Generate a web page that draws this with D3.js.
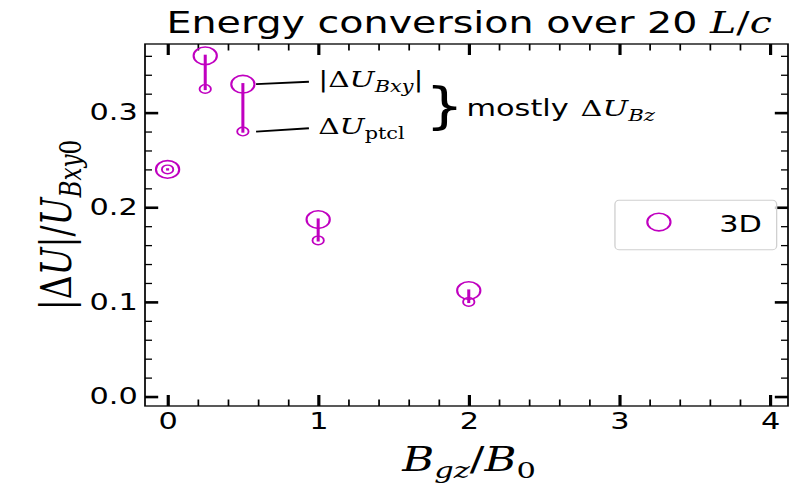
<!DOCTYPE html>
<html>
<head>
<meta charset="utf-8">
<script src="https://cdn.jsdelivr.net/npm/d3@7"></script>
<style>
  html, body { margin: 0; padding: 0; background: #fff; }
  svg { display: block; }
</style>
</head>
<body>
<div id="chart"></div>
<script>
// Energy change |ΔU| (normalised by U_Bxy0) versus guide field B_gz/B_0, 3D runs
const bgz    = [0, 0.25, 0.5, 1, 2];
const dUBxy  = [0.240, 0.360, 0.330, 0.187, 0.112];   // large circles: |ΔU_Bxy|
const dUptcl = [0.240, 0.325, 0.280, 0.165, 0.100];   // small circles: ΔU_ptcl
const xTicks = [0, 1, 2, 3, 4];
const xTickLabels = ["0", "1", "2", "3", "4"];
const yTicks = [0.0, 0.1, 0.2, 0.3];
const yTickLabels = ["0.0", "0.1", "0.2", "0.3"];
const seriesName = "3D";

const WIDTH = 800, HEIGHT = 488;
const SX = 1.32;                 // the figure is drawn wider than tall (non-uniform stretch)
const W = WIDTH / SX, H = HEIGHT;
const plot = { left: 145 / SX, right: 788 / SX, top: 44, bottom: 406 };
const MAG = "#c000c0";
const SANS = "DejaVu Sans", SERIF = "DejaVu Serif";

const svg = d3.select("#chart").append("svg")
  .attr("width", WIDTH).attr("height", HEIGHT)
  .attr("viewBox", `0 0 ${W} ${H}`)
  .attr("preserveAspectRatio", "none");

svg.append("rect").attr("width", W).attr("height", H).attr("fill", "#fff");

const x = d3.scaleLinear().domain([-0.15, 4.12]).range([plot.left, plot.right]);
const y = d3.scaleLinear().domain([-0.01, 0.3725]).range([plot.bottom, plot.top]);

const inX = v => v >= x.domain()[0] && v <= x.domain()[1];
const inY = v => v >= y.domain()[0] && v <= y.domain()[1];
const xMinor = d3.range(-2, 25).map(i => +(i * 0.2).toFixed(2))
  .filter(v => inX(v) && !xTicks.some(t => Math.abs(t - v) < 1e-9));
const yMinor = d3.range(-2, 21).map(i => +(i * 0.02).toFixed(3))
  .filter(v => inY(v) && !yTicks.some(t => Math.abs(t - v) < 1e-9));

// math-style text: parts of {t, it (italic), sub (subscript), font}
function mathText(sel, parts, size) {
  let shift = 0;
  parts.forEach(p => {
    const fs = p.sub ? size * 0.7 : size;
    const target = p.sub ? size * 0.22 : 0;
    const ts = sel.append("tspan")
      .style("font-family", p.font || SERIF)
      .style("font-style", p.it ? "italic" : "normal")
      .style("font-size", fs + "px")
      .text(p.t);
    if (target !== shift) { ts.attr("dy", target - shift); shift = target; }
    if (p.dx) ts.attr("dx", p.dx);
  });
  return sel;
}

function styleAxis(g, width, labelSize) {
  g.select(".domain").remove();
  g.selectAll(".tick line").attr("stroke", "#000").attr("stroke-width", width);
  g.selectAll(".tick text").style("font-family", SANS).style("font-size", labelSize + "px").attr("fill", "#000");
}

// major ticks with labels (bottom, left), inward on all four sides
const gxb = svg.append("g").attr("transform", `translate(0,${plot.bottom})`)
  .call(d3.axisBottom(x).tickValues(xTicks).tickFormat((d, i) => xTickLabels[i])
    .tickSizeInner(-11).tickSizeOuter(0).tickPadding(7));
styleAxis(gxb, 2.4, 23);
const gxt = svg.append("g").attr("transform", `translate(0,${plot.top})`)
  .call(d3.axisTop(x).tickValues(xTicks).tickFormat("").tickSizeInner(-11).tickSizeOuter(0));
styleAxis(gxt, 2.4, 23);
const gyl = svg.append("g").attr("transform", `translate(${plot.left},0)`)
  .call(d3.axisLeft(y).tickValues(yTicks).tickFormat((d, i) => yTickLabels[i])
    .tickSizeInner(-10).tickSizeOuter(0).tickPadding(5.5));
styleAxis(gyl, 2.6, 23);
const gyr = svg.append("g").attr("transform", `translate(${plot.right},0)`)
  .call(d3.axisRight(y).tickValues(yTicks).tickFormat("").tickSizeInner(-10).tickSizeOuter(0));
styleAxis(gyr, 2.6, 23);

// minor ticks
[[d3.axisBottom(x), plot.bottom, xMinor, -6.5, true], [d3.axisTop(x), plot.top, xMinor, -6.5, true],
 [d3.axisLeft(y), plot.left, yMinor, -5.3, false], [d3.axisRight(y), plot.right, yMinor, -5.3, false]]
  .forEach(([ax, pos, vals, len, horiz]) => {
    const g = svg.append("g")
      .attr("transform", horiz ? `translate(0,${pos})` : `translate(${pos},0)`)
      .call(ax.tickValues(vals).tickFormat("").tickSizeInner(len).tickSizeOuter(0));
    styleAxis(g, 1.3, 10);
  });

// frame
svg.append("rect")
  .attr("x", plot.left).attr("y", plot.top)
  .attr("width", plot.right - plot.left).attr("height", plot.bottom - plot.top)
  .attr("fill", "none").attr("stroke", "#000").attr("stroke-width", 1.3);

// connectors between |ΔU_Bxy| and ΔU_ptcl
svg.append("g").selectAll("line").data(bgz).join("line")
  .attr("x1", d => x(d)).attr("x2", d => x(d))
  .attr("y1", (d, i) => y(dUBxy[i])).attr("y2", (d, i) => y(dUptcl[i]))
  .attr("stroke", MAG).attr("stroke-width", 2.3).attr("stroke-linecap", "square");

// markers
svg.append("g").selectAll("circle").data(bgz).join("circle")
  .attr("cx", d => x(d)).attr("cy", (d, i) => y(dUBxy[i])).attr("r", 8.8)
  .attr("fill", "none").attr("stroke", MAG).attr("stroke-width", 1.6);
svg.append("g").selectAll("circle").data(bgz).join("circle")
  .attr("cx", d => x(d)).attr("cy", (d, i) => y(dUptcl[i])).attr("r", 4.3)
  .attr("fill", "none").attr("stroke", MAG).attr("stroke-width", 1.4);

// annotations pointing at the B_gz = 0.5 run
const annotations = [
  { at: [bgz[2], dUBxy[2]], textAt: [1.0, 0.3326],
    parts: [{ t: "|" }, { t: "Δ" }, { t: "U", it: true }, { t: "Bxy", it: true, sub: true }, { t: "|" }] },
  { at: [bgz[2], dUptcl[2]], textAt: [1.0, 0.2835],
    parts: [{ t: "Δ" }, { t: "U", it: true }, { t: "ptcl", sub: true }] }
];
annotations.forEach(a => {
  svg.append("line")
    .attr("x1", x(a.at[0]) + 10).attr("y1", y(a.at[1]))
    .attr("x2", x(a.textAt[0]) - 7).attr("y2", y(a.textAt[1]))
    .attr("stroke", "#000").attr("stroke-width", 1.8);
  const t = svg.append("text").attr("x", x(a.textAt[0])).attr("y", y(a.textAt[1]) + 5.5).attr("fill", "#000");
  mathText(t, a.parts, 22.5);
});

// brace grouping both annotations
const braceX = x(1.84), braceY = y(0.3054);
svg.append("text")
  .attr("transform", `translate(${braceX},${braceY}) scale(1,1.09)`)
  .attr("y", 14.3)
  .attr("text-anchor", "middle")
  .style("font-family", SANS).style("font-size", "46px").attr("fill", "#000")
  .text("}");
const note = svg.append("text").attr("x", x(1.985)).attr("y", y(0.2967)).attr("fill", "#000");
mathText(note, [{ t: "mostly", font: SANS }, { t: "Δ", dx: 9 }, { t: "U", it: true }, { t: "Bz", it: true, sub: true }], 23);

// title
const title = svg.append("text")
  .attr("x", (plot.left + plot.right) / 2 + 2).attr("y", 33)
  .attr("text-anchor", "middle").attr("fill", "#000");
mathText(title, [{ t: "Energy conversion over 20 ", font: SANS }, { t: "L", it: true }, { t: "/" }, { t: "c", it: true }], 30);

// axis labels
const xl = svg.append("text")
  .attr("x", (plot.left + plot.right) / 2 + 2).attr("y", 471)
  .attr("text-anchor", "middle").attr("fill", "#000");
mathText(xl, [{ t: "B", it: true }, { t: "gz", it: true, sub: true }, { t: "/" }, { t: "B", it: true }, { t: "0", sub: true }], 33);

const yl = svg.append("text")
  .attr("transform", `translate(54,${(plot.top + plot.bottom) / 2}) rotate(-90)`)
  .attr("text-anchor", "middle").attr("fill", "#000");
mathText(yl, [{ t: "|" }, { t: "Δ" }, { t: "U", it: true }, { t: "|" }, { t: "/" }, { t: "U", it: true },
  { t: "Bxy", it: true, sub: true }, { t: "0", sub: true }], 33);

// legend (center right)
const lg = { w: 122.5, h: 49.3 };
lg.x = plot.right - 8.6 - lg.w;
lg.y = (plot.top + plot.bottom) / 2 - lg.h / 2;
const legend = svg.append("g");
legend.append("rect")
  .attr("x", lg.x).attr("y", lg.y).attr("width", lg.w).attr("height", lg.h)
  .attr("rx", 3).attr("ry", 4)
  .attr("fill", "#fff").attr("fill-opacity", 0.8)
  .attr("stroke", "#d0d0d0").attr("stroke-width", 1);
legend.append("circle")
  .attr("cx", lg.x + 33.3).attr("cy", lg.y + 21.7).attr("r", 8.8)
  .attr("fill", "none").attr("stroke", MAG).attr("stroke-width", 1.6);
legend.append("text")
  .attr("x", lg.x + 79).attr("y", lg.y + 31.7)
  .style("font-family", SANS).style("font-size", "23px").attr("fill", "#000")
  .text(seriesName);
</script>
</body>
</html>
